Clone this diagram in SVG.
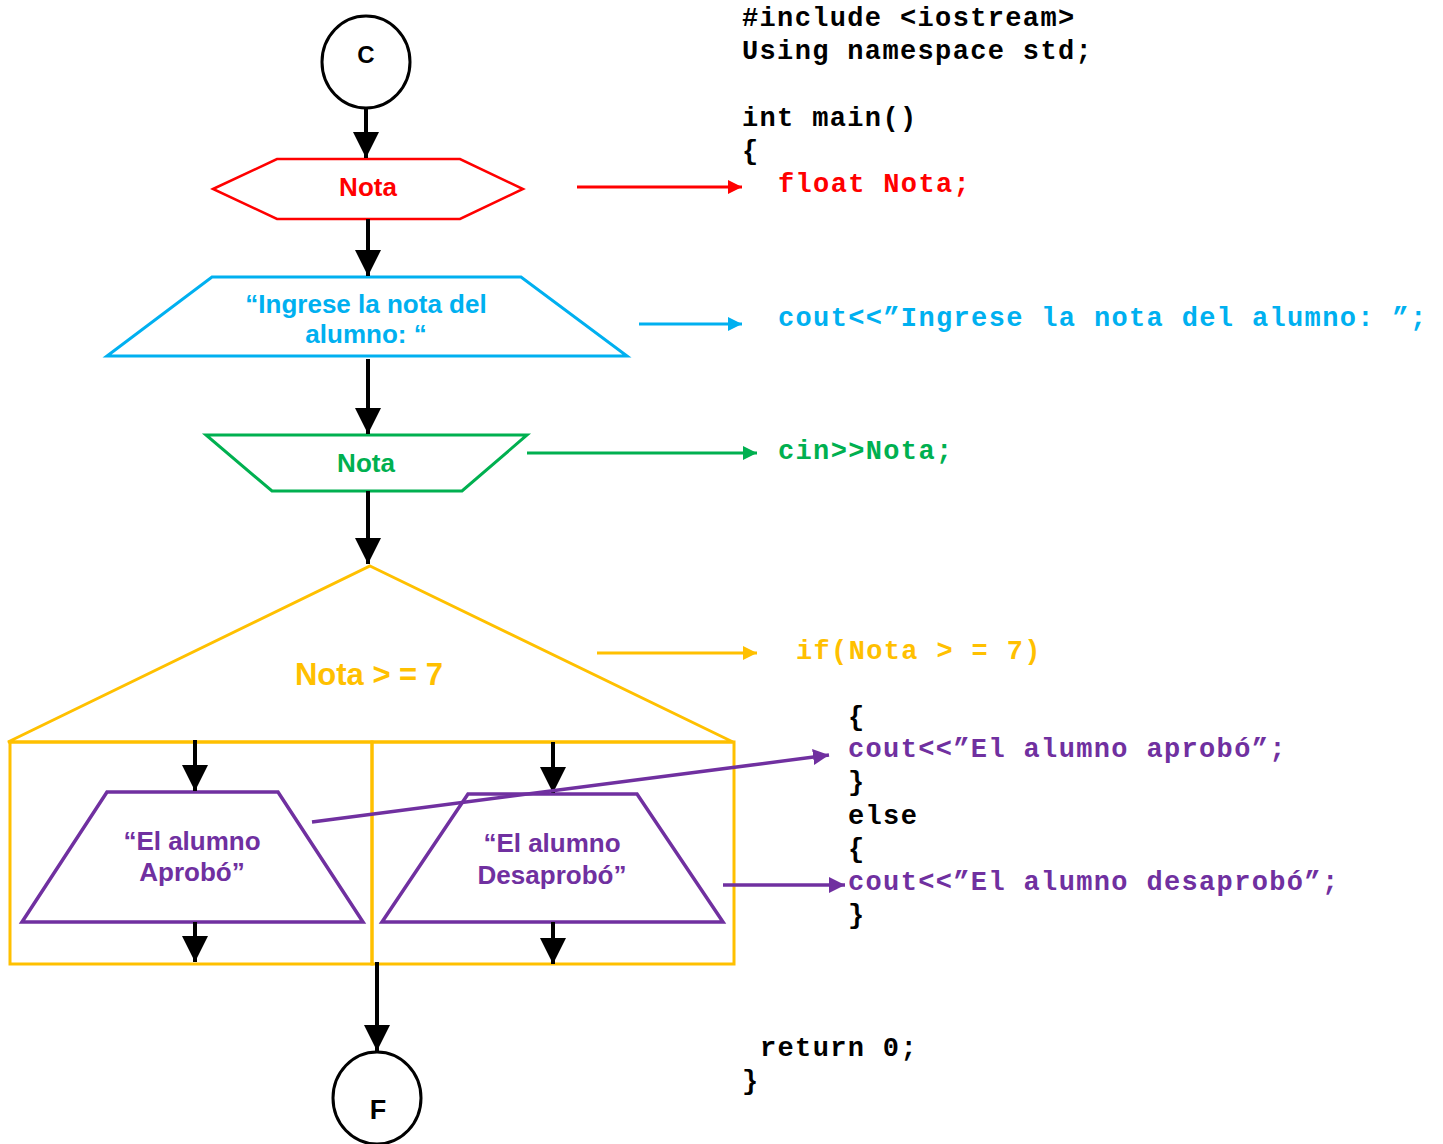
<svg xmlns="http://www.w3.org/2000/svg" width="1443" height="1144" viewBox="0 0 1443 1144">
<style>
.st{font-family:"Liberation Sans",Arial,sans-serif;font-weight:bold;font-size:26px;text-anchor:middle}
.code{font-family:"Liberation Mono","Courier New",monospace;font-weight:bold;font-size:27px;letter-spacing:1.35px}
.blk{stroke:#000;stroke-width:4;fill:none}
.shape{fill:#fff;stroke-width:3}
</style>
<defs>
<marker id="ab" markerUnits="userSpaceOnUse" markerWidth="26" markerHeight="26" viewBox="0 0 26 26" refX="26" refY="13" orient="auto"><path d="M0,0 L26,13 L0,26 z" fill="#000"/></marker>
<marker id="ar" markerUnits="userSpaceOnUse" markerWidth="14" markerHeight="14" viewBox="0 0 14 14" refX="14" refY="7" orient="auto"><path d="M0,0 L14,7 L0,14 z" fill="#FF0000"/></marker>
<marker id="abl" markerUnits="userSpaceOnUse" markerWidth="14" markerHeight="14" viewBox="0 0 14 14" refX="14" refY="7" orient="auto"><path d="M0,0 L14,7 L0,14 z" fill="#00B0F0"/></marker>
<marker id="ag" markerUnits="userSpaceOnUse" markerWidth="14" markerHeight="14" viewBox="0 0 14 14" refX="14" refY="7" orient="auto"><path d="M0,0 L14,7 L0,14 z" fill="#00B050"/></marker>
<marker id="ay" markerUnits="userSpaceOnUse" markerWidth="14" markerHeight="14" viewBox="0 0 14 14" refX="14" refY="7" orient="auto"><path d="M0,0 L14,7 L0,14 z" fill="#FFC000"/></marker>
<marker id="ap" markerUnits="userSpaceOnUse" markerWidth="16" markerHeight="16" viewBox="0 0 16 16" refX="16" refY="8" orient="auto"><path d="M0,0 L16,8 L0,16 z" fill="#7030A0"/></marker>
</defs>
<rect width="1443" height="1144" fill="#fff"/>

<g id="node-start">
<ellipse cx="366" cy="62" rx="44" ry="46" fill="#fff" stroke="#000" stroke-width="3"/>
<text x="366" y="63" class="st" style="font-size:24px" fill="#000">C</text>
</g>

<g id="node-decl">
<polygon points="213,189 277,159 460,159 523,189 460,219 277,219" class="shape" stroke="#FF0000" style="stroke-width:2.5"/>
<text x="368" y="196" class="st" fill="#FF0000">Nota</text>
</g>

<g id="node-output">
<polygon points="212,277 521,277 627,356 107,356" class="shape" stroke="#00B0F0"/>
<text x="366" y="313" class="st" fill="#00B0F0">“Ingrese la nota del</text>
<text x="366" y="343" class="st" fill="#00B0F0">alumno: “</text>
</g>

<g id="node-input">
<polygon points="206,435 527,435 462,491 272,491" class="shape" stroke="#00B050"/>
<text x="366" y="472" class="st" fill="#00B050">Nota</text>
</g>

<g id="node-decision">
<polygon points="370,566 733,742 8,742" fill="#fff" stroke="#FFC000" stroke-width="3"/>
<text x="369" y="685" class="st" style="font-size:31px" fill="#FFC000">Nota &gt; = 7</text>
</g>

<g id="node-true-box">
<rect x="10" y="742" width="362" height="222" fill="none" stroke="#FFC000" stroke-width="3"/>
</g>
<g id="node-false-box">
<rect x="372" y="742" width="362" height="222" fill="none" stroke="#FFC000" stroke-width="3"/>
</g>

<g id="node-aprobo">
<polygon points="107,792 278,792 363,922 22,922" class="shape" stroke="#7030A0" style="stroke-width:3.5"/>
<text x="192" y="850" class="st" fill="#7030A0">“El alumno</text>
<text x="192" y="881" class="st" fill="#7030A0">Aprobó”</text>
</g>

<g id="node-desaprobo">
<polygon points="468,794 637,794 723,922 382,922" class="shape" stroke="#7030A0" style="stroke-width:3.5"/>
<text x="552" y="852" class="st" fill="#7030A0">“El alumno</text>
<text x="552" y="884" class="st" fill="#7030A0">Desaprobó”</text>
</g>

<g id="node-end">
<ellipse cx="377" cy="1098" rx="44" ry="46" fill="#fff" stroke="#000" stroke-width="3"/>
<text x="378" y="1119" class="st" style="font-size:27px" fill="#000">F</text>
</g>

<g id="code">
<text x="742" y="26" class="code" fill="#000">#include &lt;iostream&gt;</text>
<text x="742" y="59" class="code" fill="#000">Using namespace std;</text>
<text x="742" y="126" class="code" fill="#000">int main()</text>
<text x="742" y="159" class="code" fill="#000">{</text>
<text x="778" y="192" class="code" fill="#FF0000">float Nota;</text>
<text x="778" y="326" class="code" fill="#00B0F0">cout&lt;&lt;”Ingrese la nota del alumno: ”;</text>
<text x="778" y="459" class="code" fill="#00B050">cin&gt;&gt;Nota;</text>
<text x="796" y="659" class="code" fill="#FFC000">if(Nota &gt; = 7)</text>
<text x="848" y="725" class="code" fill="#000">{</text>
<text x="848" y="757" class="code" fill="#7030A0">cout&lt;&lt;”El alumno aprobó”;</text>
<text x="848" y="790" class="code" fill="#000">}</text>
<text x="848" y="824" class="code" fill="#000">else</text>
<text x="848" y="857" class="code" fill="#000">{</text>
<text x="848" y="890" class="code" fill="#7030A0">cout&lt;&lt;”El alumno desaprobó”;</text>
<text x="848" y="923" class="code" fill="#000">}</text>
<text x="760" y="1056" class="code" fill="#000">return 0;</text>
<text x="742" y="1089" class="code" fill="#000">}</text>
</g>

<g id="connectors">
<line x1="366" y1="108" x2="366" y2="158" class="blk" marker-end="url(#ab)"/>
<line x1="368" y1="219" x2="368" y2="276" class="blk" marker-end="url(#ab)"/>
<line x1="368" y1="359" x2="368" y2="434" class="blk" marker-end="url(#ab)"/>
<line x1="368" y1="491" x2="368" y2="564" class="blk" marker-end="url(#ab)"/>
<line x1="195" y1="740" x2="195" y2="791" class="blk" marker-end="url(#ab)"/>
<line x1="553" y1="742" x2="553" y2="793" class="blk" marker-end="url(#ab)"/>
<line x1="195" y1="922" x2="195" y2="962" class="blk" marker-end="url(#ab)"/>
<line x1="553" y1="922" x2="553" y2="964" class="blk" marker-end="url(#ab)"/>
<line x1="377" y1="962" x2="377" y2="1051" class="blk" marker-end="url(#ab)"/>
<line x1="577" y1="187" x2="742" y2="187" stroke="#FF0000" stroke-width="3" marker-end="url(#ar)"/>
<line x1="639" y1="324" x2="742" y2="324" stroke="#00B0F0" stroke-width="3" marker-end="url(#abl)"/>
<line x1="527" y1="453" x2="757" y2="453" stroke="#00B050" stroke-width="3" marker-end="url(#ag)"/>
<line x1="597" y1="653" x2="757" y2="653" stroke="#FFC000" stroke-width="3" marker-end="url(#ay)"/>
<line x1="312" y1="822" x2="829" y2="755" stroke="#7030A0" stroke-width="3.5" marker-end="url(#ap)"/>
<line x1="723" y1="885" x2="845" y2="885" stroke="#7030A0" stroke-width="3.5" marker-end="url(#ap)"/>
</g>
</svg>
